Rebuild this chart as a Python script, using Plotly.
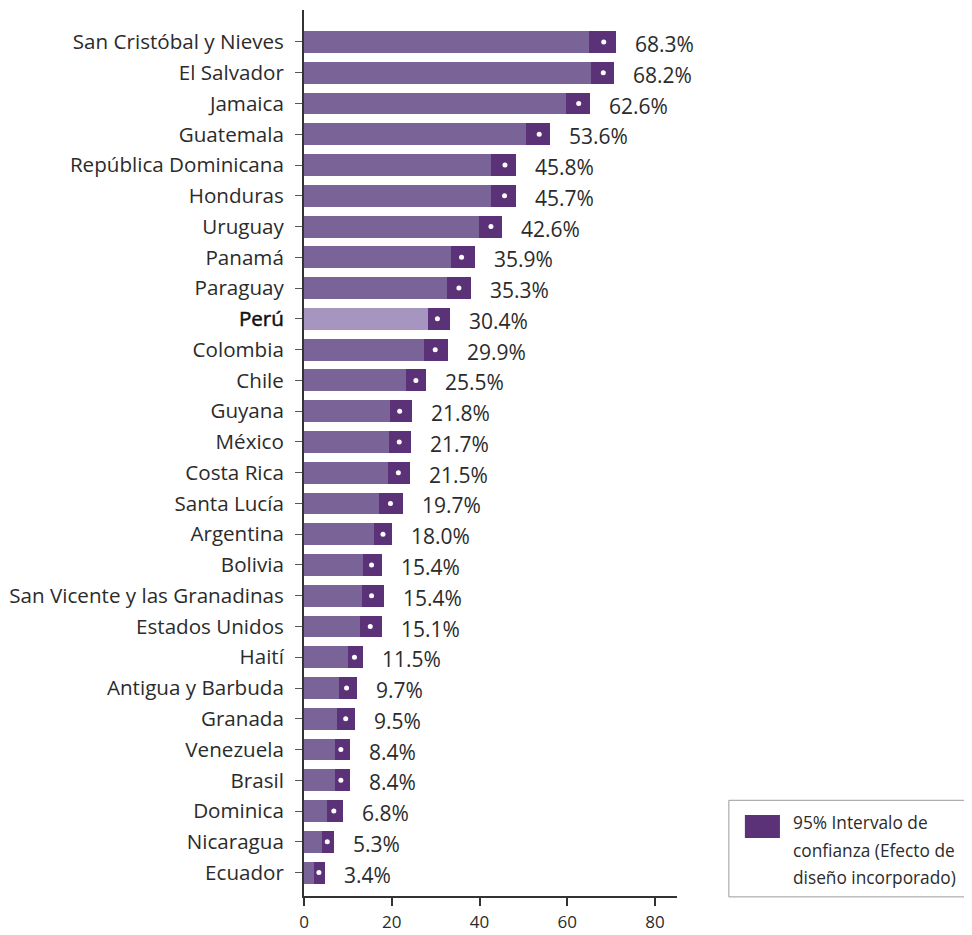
import plotly.graph_objects as go

countries = ["San Cristóbal y Nieves", "El Salvador", "Jamaica", "Guatemala",
             "República Dominicana", "Honduras", "Uruguay", "Panamá", "Paraguay",
             "Perú", "Colombia", "Chile", "Guyana", "México", "Costa Rica",
             "Santa Lucía", "Argentina", "Bolivia", "San Vicente y las Granadinas",
             "Estados Unidos", "Haití", "Antigua y Barbuda", "Granada", "Venezuela",
             "Brasil", "Dominica", "Nicaragua", "Ecuador"]
estimate = [68.3, 68.2, 62.6, 53.6, 45.8, 45.7, 42.6, 35.9, 35.3, 30.4, 29.9, 25.5,
            21.8, 21.7, 21.5, 19.7, 18.0, 15.4, 15.4, 15.1, 11.5, 9.7, 9.5, 8.4,
            8.4, 6.8, 5.3, 3.4]
ci_low = [65.0, 65.5, 59.8, 50.7, 42.7, 42.7, 39.8, 33.4, 32.5, 28.2, 27.3, 23.2,
          19.5, 19.3, 19.1, 17.0, 15.9, 13.4, 13.2, 12.7, 10.0, 8.0, 7.5, 7.0,
          7.0, 5.2, 4.1, 2.3]
ci_high = [71.1, 70.7, 65.2, 56.1, 48.4, 48.4, 45.2, 38.9, 38.0, 33.2, 32.7, 27.7,
           24.5, 24.3, 24.1, 22.5, 20.0, 17.7, 18.2, 17.7, 13.4, 12.0, 11.6, 10.5,
           10.5, 8.9, 6.8, 4.8]
highlight = "Perú"
legend_lines = ["95% Intervalo de", "confianza (Efecto de", "diseño incorporado)"]

BASE = "#7a6396"
HIGHLIGHT = "#a696bf"
CI = "#5b3277"
TEXT = "#2b2b2b"
FONT = "Open Sans"

ypos = list(range(len(countries)))
base_colors = [HIGHLIGHT if c == highlight else BASE for c in countries]
# semibold look for the highlighted country
ticktext = ['<span style="fill:#111;stroke:#111;stroke-width:0.5px">%s</span>' % c
            if c == highlight else c for c in countries]

fig = go.Figure()
fig.add_trace(go.Bar(y=ypos, x=ci_low, orientation="h", width=0.71,
                     marker=dict(color=base_colors, line_width=0),
                     showlegend=False, hoverinfo="skip"))
fig.add_trace(go.Bar(y=ypos, x=[h - l for l, h in zip(ci_low, ci_high)], base=ci_low,
                     orientation="h", width=0.71, marker=dict(color=CI, line_width=0),
                     showlegend=False, hoverinfo="skip"))
fig.add_trace(go.Scatter(y=ypos, x=estimate, mode="markers",
                         marker=dict(color="white", size=5), showlegend=False))

for y, h, v in zip(ypos, ci_high, estimate):
    fig.add_annotation(x=h, y=y, text="%.1f%%" % v, showarrow=False,
                       xanchor="left", xshift=17, yshift=-2,
                       font=dict(family=FONT, size=21, color=TEXT))

# legend box (drawn by hand: three lines next to one swatch)
fig.add_shape(type="rect", xref="paper", yref="paper", x0=1.139, x1=1.786,
              y0=-0.001, y1=0.108, line=dict(color="#9a9a9a", width=1),
              fillcolor="white")
fig.add_shape(type="rect", xref="paper", yref="paper", x0=1.182, x1=1.276,
              y0=0.0655, y1=0.0914, line_width=0, fillcolor=CI)
for i, line in enumerate(legend_lines):
    fig.add_annotation(xref="paper", yref="paper", x=1.305, y=0.0824 - i * 0.0305,
                       xanchor="left", yanchor="middle", showarrow=False, text=line,
                       font=dict(family=FONT, size=17.3, color=TEXT))

fig.update_layout(
    width=964, height=927,
    margin=dict(l=296, r=295, t=2, b=39),
    plot_bgcolor="white", paper_bgcolor="white",
    barmode="overlay", bargap=0,
    font=dict(family=FONT, color=TEXT),
    xaxis=dict(range=[0, 85], tickvals=[0, 20, 40, 60, 80], showgrid=False,
               zeroline=False, showline=True, linecolor="#333333", linewidth=2,
               ticks="outside", ticklen=8, tickcolor="#333333", tickwidth=2,
               ticklabelstandoff=2, automargin=False,
               tickfont=dict(size=17, color=TEXT)),
    yaxis=dict(range=[27.76, -1.04], tickvals=ypos, ticktext=ticktext,
               showgrid=False, zeroline=False, showline=True, linecolor="#333333",
               linewidth=2, ticks="outside", ticklen=7, tickcolor="#555555",
               tickwidth=1, ticklabelstandoff=7, automargin=False,
               tickfont=dict(size=20.6, color=TEXT)),
)

fig.write_html("out.html")
